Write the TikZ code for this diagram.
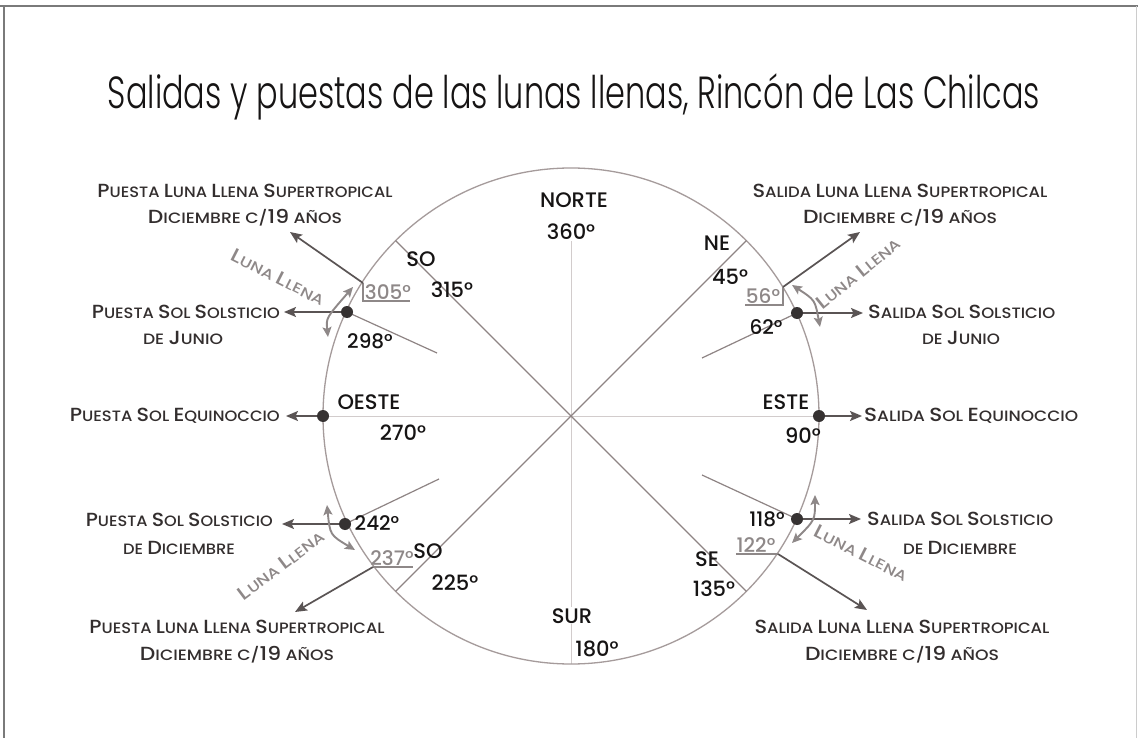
\documentclass[tikz,border=0pt]{standalone}
\usepackage{fontspec}
\usepackage{graphicx}
\IfFontExistsTF{Poppins Medium}{\setmainfont{Poppins Medium}}{\setmainfont{Poppins}}
\IfFontExistsTF{Poppins Light}{\newfontfamily\titlefont{Poppins Light}}{\newfontfamily\titlefont{Poppins}}
\usetikzlibrary{arrows.meta,calc}
\definecolor{txt}{HTML}{332E2E}
\definecolor{blk}{HTML}{161414}
\definecolor{circ}{HTML}{A59B9B}
\definecolor{diag}{HTML}{8E8484}
\definecolor{axisc}{HTML}{D2CCCC}
\definecolor{arr}{HTML}{5A5454}
\definecolor{moon}{HTML}{8E8888}
\definecolor{dotc}{HTML}{363232}
\definecolor{framec}{HTML}{7A7A7A}
\newcommand\K[1]{{\fontsize{19}{19}\selectfont #1}}
\newcommand\W[2]{\resizebox{#1}{\height}{#2}}
\tikzset{
  lab/.style={font=\fontsize{15}{15}\selectfont, text=txt, inner sep=0pt},
  cmp/.style={font=\fontsize{21}{21}\selectfont, text=blk, inner sep=0pt, anchor=base},
  deg/.style={font=\fontsize{20}{20}\selectfont, text=blk, inner sep=0pt, anchor=base},
  gdeg/.style={font=\fontsize{20}{20}\selectfont, text=moon, inner sep=0pt, anchor=base},
  moontxt/.style={font=\fontsize{14}{14}\selectfont, text=moon, inner sep=0pt},
  dotn/.style={circle, fill=dotc, minimum size=12pt, inner sep=0pt},
  solarr/.style={draw=arr, line width=1.9pt, -{Stealth[length=12pt,width=10pt,inset=2.5pt]}},
  suparr/.style={draw=arr, line width=1.7pt, -{Stealth[length=12pt,width=10pt,inset=2.5pt]}},
  moonarr/.style={draw=moon, line width=1.9pt, {Stealth[length=10pt,width=9pt,inset=2pt]}-{Stealth[length=10pt,width=9pt,inset=2pt]}},
  markline/.style={draw=moon, line width=1.3pt},
  diagline/.style={draw=diag, line width=1.2pt},
  axisline/.style={draw=axisc, line width=0.8pt},
}
\begin{document}
\begin{tikzpicture}[x=1pt,y=-1pt]
\useasboundingbox (0,0) rectangle (1138,738);
\fill[white] (0,0) rectangle (1138,738);
% frame
\draw[framec, line width=2pt] (0,6) -- (1138,6);
\draw[framec, line width=1.2pt] (4,6) -- (4,738);
\draw[black!20, line width=1pt] (1136.5,6) -- (1136.5,738);

% title
\node[anchor=base, inner sep=0pt, text=blk] (title) at (574,109)
  {\W{932pt}{\titlefont\fontsize{45}{45}\selectfont Salidas y puestas de las lunas llenas, Rincón de Las Chilcas}};

% geometry
\coordinate (C) at (571,416);
\coordinate (pN) at (571,168);
\coordinate (pS) at (571,664);
\coordinate (pW) at (323,416);
\coordinate (pE) at (819,416);
\coordinate (pNE) at (746.4,240.6);
\coordinate (pSE) at (746.4,591.4);
\coordinate (pSW) at (395.6,591.4);
\coordinate (pNW) at (395.6,240.6);

% compass texts with white background on the vertical axis
\node[cmp, fill=white, inner sep=1pt] (norte) at (574,208) {NORTE};
\node[cmp, fill=white, inner sep=1pt] (n360) at (571,240) {360°};

\draw[axisline] (n360.south) -- (pS);
\draw[axisline] (pW) -- (pE);
\draw[circ, line width=1.3pt] (C) circle[radius=248pt];
\draw[diagline] (pNE) -- (pSW);
\draw[diagline] (pNW) -- (pSE);

\node[cmp, fill=white, inner sep=1pt] (sur) at (572,623) {SUR};

% solstice points and inner lines
\coordinate (dJW) at (347,312);
\coordinate (dJE) at (797,313);
\coordinate (dDE) at (797,519);
\coordinate (dDW) at (345,524);
\coordinate (iJW) at (437,353);
\coordinate (iJE) at (702,358);
\coordinate (iDE) at (702,475);
\coordinate (iDW) at (439,479);
\draw[diagline] (dJW) -- (iJW);
\draw[diagline] (dJE) -- (iJE);
\draw[diagline] (dDE) -- (iDE);
\draw[diagline] (dDW) -- (iDW);

% moon supertropical marks and arrows
\coordinate (mNW) at (363,283);
\coordinate (mNWa) at (363,301);
\coordinate (mNWb) at (410,301);
\coordinate (tNW) at (290,232);
\draw[markline] (mNW) -- (mNWa) -- (mNWb);
\draw[suparr] (mNW) -- (tNW);

\coordinate (mNE) at (783,287);
\coordinate (mNEa) at (783,305);
\coordinate (mNEb) at (745,305);
\coordinate (tNE) at (860,232);
\draw[markline] (mNE) -- (mNEa) -- (mNEb);
\draw[suparr] (mNE) -- (tNE);

\coordinate (mSE) at (778,554);
\coordinate (mSEb) at (736,554);
\coordinate (tSE) at (867,610);
\draw[markline] (mSEb) -- (mSE);
\draw[suparr] (mSE) -- (tSE);

\coordinate (mSW) at (373,567);
\coordinate (mSWb) at (413,567);
\coordinate (tSW) at (295,612);
\draw[markline] (mSW) -- (mSWb);
\draw[suparr] (mSW) -- (tSW);

% sun arrows
\coordinate (aJW) at (284,312);
\coordinate (aJE) at (863,313);
\coordinate (aDE) at (861,519);
\coordinate (aDW) at (282,524);
\coordinate (aEW) at (286,416);
\coordinate (aEE) at (862,416);
\draw[solarr] (dJW) -- (aJW);
\draw[solarr] (dJE) -- (aJE);
\draw[solarr] (dDE) -- (aDE);
\draw[solarr] (dDW) -- (aDW);
\draw[solarr] (pW) -- (aEW);
\draw[solarr] (pE) -- (aEE);

% dots
\node[dotn] (dotJW) at (dJW) {};
\node[dotn] (dotJE) at (dJE) {};
\node[dotn] (dotDE) at (dDE) {};
\node[dotn] (dotDW) at (dDW) {};
\node[dotn] (dotW) at (pW) {};
\node[dotn] (dotE) at (pE) {};

% moon range curved arrows
\coordinate (cUL1) at (328,337); \coordinate (cUL2) at (353,287);
\coordinate (cUR1) at (792,285); \coordinate (cUR2) at (820,327);
\coordinate (cLR1) at (815,495); \coordinate (cLR2) at (792,543);
\coordinate (cLL1) at (327,505); \coordinate (cLL2) at (355,550);
\draw[moonarr] (cUL1) .. controls (326,318) .. (cUL2);
\draw[moonarr] (cUR1) .. controls (815,300) .. (cUR2);
\draw[moonarr] (cLR1) .. controls (815,520) .. (cLR2);
\draw[moonarr] (cLL1) .. controls (330,535) .. (cLL2);

% Luna Llena texts
\node[moontxt, rotate=-27] (llUL) at (278,277) {\W{103pt}{\K{L}UNA \K{L}LENA}};
\node[moontxt, rotate=39] (llUR) at (858,273) {\W{103pt}{\K{L}UNA \K{L}LENA}};
\node[moontxt, rotate=-27] (llLR) at (861,553) {\W{103pt}{\K{L}UNA \K{L}LENA}};
\node[moontxt, rotate=37] (llLL) at (281,565) {\W{103pt}{\K{L}UNA \K{L}LENA}};

% compass labels
\node[cmp] (so1) at (421,266) {SO};
\node[cmp] (d315) at (452,298) {315°};
\node[cmp] (ne) at (717,251) {NE};
\node[cmp] (d45) at (730,284) {45°};
\node[cmp] (oeste) at (369,409) {OESTE};
\node[cmp] (d270) at (403,440) {270°};
\node[cmp] (este) at (786,409) {ESTE};
\node[cmp] (d90) at (803,443) {90°};
\node[cmp] (so2) at (428,558) {SO};
\node[cmp] (d225) at (455,590) {225°};
\node[cmp] (se) at (707,566) {SE};
\node[cmp] (d135) at (714,596) {135°};
\node[cmp] (d180) at (597,656) {180°};

\node[deg] (d298) at (370,348) {298°};
\node[deg] (d62) at (766,334) {62°};
\node[deg] (d118) at (767,526) {118°};
\node[deg] (d242) at (377,530) {242°};

\node[gdeg] (d305) at (388,299) {305°};
\node[gdeg] (d56) at (763,303) {56°};
\node[gdeg] (d122) at (756,552) {122°};
\node[gdeg] (d237) at (392,565) {237°};

% side labels
\node[lab, anchor=base] (tl1) at (245,198) {\W{295pt}{\K{P}UESTA \K{L}UNA \K{L}LENA \K{S}UPERTROPICAL}};
\node[lab, anchor=base] (tl2) at (245,224) {\W{194pt}{\K{D}ICIEMBRE C/\K{19} AÑOS}};
\node[lab, anchor=base] (tr1) at (900,198) {\W{295pt}{\K{S}ALIDA \K{L}UNA \K{L}LENA \K{S}UPERTROPICAL}};
\node[lab, anchor=base] (tr2) at (900,224) {\W{194pt}{\K{D}ICIEMBRE C/\K{19} AÑOS}};
\node[lab, anchor=base] (bl1) at (237,633) {\W{295pt}{\K{P}UESTA \K{L}UNA \K{L}LENA \K{S}UPERTROPICAL}};
\node[lab, anchor=base] (bl2) at (237,660) {\W{194pt}{\K{D}ICIEMBRE C/\K{19} AÑOS}};
\node[lab, anchor=base] (br1) at (902,633) {\W{295pt}{\K{S}ALIDA \K{L}UNA \K{L}LENA \K{S}UPERTROPICAL}};
\node[lab, anchor=base] (br2) at (902,660) {\W{194pt}{\K{D}ICIEMBRE C/\K{19} AÑOS}};

\node[lab, anchor=base east] (jw1) at (280,318) {\W{188pt}{\K{P}UESTA \K{S}OL \K{S}OLSTICIO}};
\node[lab, anchor=base] (jw2) at (183,344) {\W{80pt}{DE \K{J}UNIO}};
\node[lab, anchor=base west] (je1) at (868,318) {\W{187pt}{\K{S}ALIDA \K{S}OL \K{S}OLSTICIO}};
\node[lab, anchor=base] (je2) at (961,344) {\W{78pt}{DE \K{J}UNIO}};
\node[lab, anchor=base east] (dw1) at (273,526) {\W{187pt}{\K{P}UESTA \K{S}OL \K{S}OLSTICIO}};
\node[lab, anchor=base] (dw2) at (179,554) {\W{112pt}{DE \K{D}ICIEMBRE}};
\node[lab, anchor=base west] (de1) at (867,525) {\W{186pt}{\K{S}ALIDA \K{S}OL \K{S}OLSTICIO}};
\node[lab, anchor=base] (de2) at (960,554) {\W{114pt}{DE \K{D}ICIEMBRE}};
\node[lab, anchor=base east] (ew) at (280,421) {\W{210pt}{\K{P}UESTA \K{S}OL \K{E}QUINOCCIO}};
\node[lab, anchor=base west] (ee) at (864,421) {\W{214pt}{\K{S}ALIDA \K{S}OL \K{E}QUINOCCIO}};
\end{tikzpicture}
\end{document}
